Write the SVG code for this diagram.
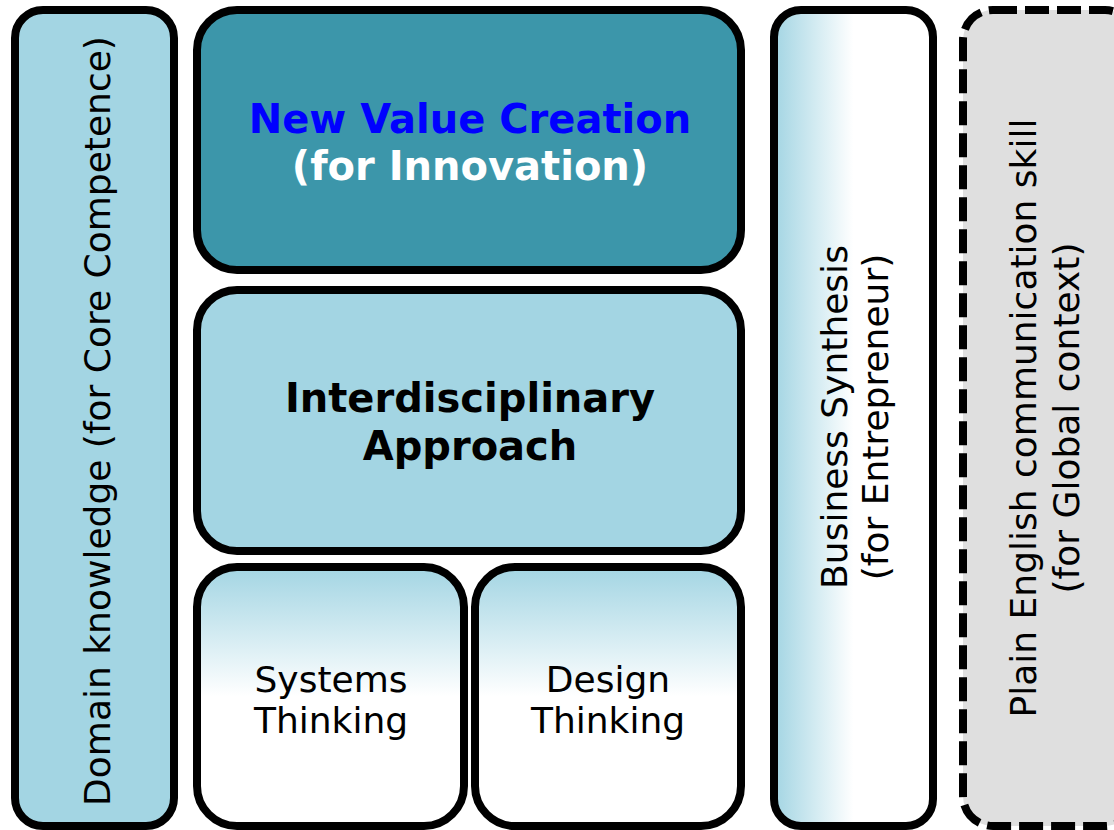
<svg xmlns="http://www.w3.org/2000/svg" width="1114" height="830" viewBox="0 0 1114 830">
  <style>
    .box { stroke: #000; stroke-width: 8; }
    .lb { fill: #a3d5e3; }
    .teal { fill: #3c96aa; }
    .t { font-family: "DejaVu Sans", Verdana, sans-serif; font-size: 36px; fill: #000; text-anchor: middle; }
    .b { font-family: "DejaVu Sans", Verdana, sans-serif; font-size: 40px; font-weight: bold; text-anchor: middle; }
  </style>
  <defs>
    <linearGradient id="gv" x1="0" y1="0" x2="0" y2="1">
      <stop offset="0" stop-color="#a3d5e3"/>
      <stop offset="0.5" stop-color="#ffffff"/>
      <stop offset="1" stop-color="#ffffff"/>
    </linearGradient>
    <linearGradient id="gh" x1="0" y1="0" x2="1" y2="0">
      <stop offset="0" stop-color="#a3d5e3"/>
      <stop offset="0.5" stop-color="#ffffff"/>
      <stop offset="1" stop-color="#ffffff"/>
    </linearGradient>
  </defs>
  <rect width="1114" height="830" fill="#ffffff"/>

  <g id="domain">
    <rect class="box lb" x="15" y="10" width="159" height="816" rx="28"/>
    <text class="t" transform="translate(110,421) rotate(-90)">Domain knowledge (for Core Competence)</text>
  </g>

  <g id="new-value">
    <rect class="box teal" x="197" y="10" width="544" height="260" rx="40"/>
    <text class="b" x="470" y="133" fill="#0000ff">New Value Creation</text>
    <text class="b" x="470" y="180" fill="#ffffff">(for Innovation)</text>
  </g>

  <g id="interdisciplinary">
    <rect class="box lb" x="197" y="290" width="544" height="261" rx="40"/>
    <text class="b" x="470" y="412" fill="#000">Interdisciplinary</text>
    <text class="b" x="470" y="460" fill="#000">Approach</text>
  </g>

  <g id="systems">
    <rect class="box" x="197" y="567" width="267" height="259" rx="40" fill="url(#gv)"/>
    <text class="t" x="331" y="692">Systems</text>
    <text class="t" x="331" y="733">Thinking</text>
  </g>

  <g id="design">
    <rect class="box" x="475" y="567" width="266" height="259" rx="40" fill="url(#gv)"/>
    <text class="t" x="608" y="692">Design</text>
    <text class="t" x="608" y="733">Thinking</text>
  </g>

  <g id="business">
    <rect class="box" x="774" y="10" width="159" height="816" rx="27" fill="url(#gh)"/>
    <text class="t" transform="translate(847,417) rotate(-90)">Business Synthesis</text>
    <text class="t" transform="translate(888,417) rotate(-90)">(for Entrepreneur)</text>
  </g>

  <g id="english">
    <rect class="box" x="963" y="10" width="172" height="816" rx="30" fill="#dfdfdf" stroke-dasharray="24 8"/>
    <text class="t" transform="translate(1036,418) rotate(-90)">Plain English communication skill</text>
    <text class="t" transform="translate(1079,418) rotate(-90)">(for Global context)</text>
  </g>

  <g id="connectors"></g>
</svg>
